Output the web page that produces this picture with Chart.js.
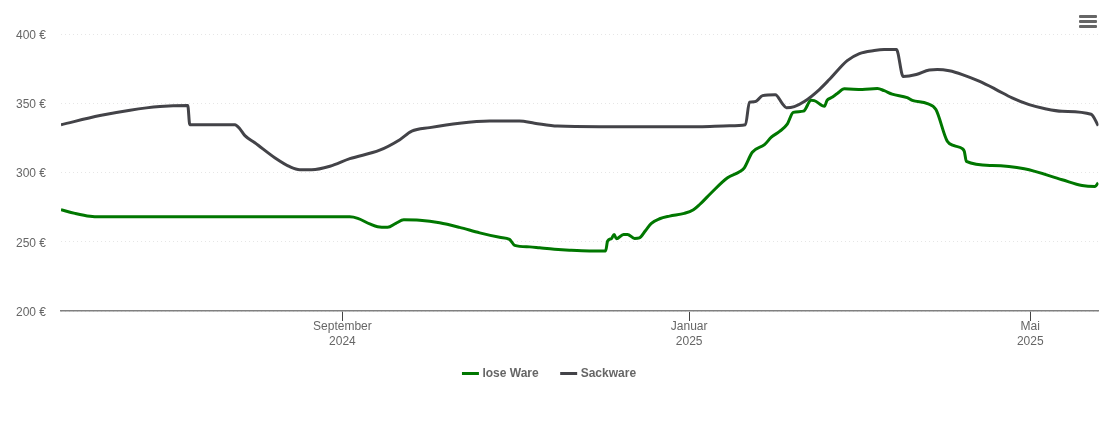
<!DOCTYPE html>
<html lang="de">
<head>
<meta charset="utf-8">
<title>Preisentwicklung</title>
<style>
  html, body { margin: 0; padding: 0; background: #fff; }
  #wrap { position: relative; width: 1110px; height: 422px; overflow: hidden; }
  #menu { position: absolute; left: 1079px; top: 15px; width: 18px; height: 14px; }
  #menu span { display: block; height: 3.4px; margin-bottom: 1.6px; background: #666; border-radius: 1px; }
</style>
</head>
<body>
<div id="wrap">
  <canvas id="priceChart" width="1110" height="422"></canvas>
  <div id="menu"><span></span><span></span><span></span></div>
</div>
<script src="https://cdn.jsdelivr.net/npm/chart.js@4/dist/chart.umd.min.js"></script>
<script>
"use strict";

// x values are days since 25 May 2024
const LOOSE_DAYS = [0, 4.9, 10.2, 13.7, 48.9, 101.6, 104.4, 108.6, 111.4, 114.9, 117.8, 120.6, 126.2, 133.2,
  140.2, 147.3, 154.3, 157.8, 159.6, 164.9, 168.4, 173.6, 178.9, 185.9, 191.6, 192.3, 193.7, 194.6, 195.4, 197.9, 199.3,
  201.8, 203.5, 205.6, 207.7, 210.6, 214.1, 219.3, 222.5, 224.6, 228.8, 234.5, 238.7, 240.4, 243.2, 247.5,
  249.9, 252.7, 255.5, 257.6, 261.2, 263.9, 265, 268.6, 269.5, 270.9, 273.1, 275.6, 281.9, 287.2, 289.6,
  292.4, 297.7, 299.5, 304.8, 307.8, 311.8, 314.2, 317.1, 317.8, 318.5, 327.6, 338.9, 352.2, 359.2, 363.8, 364.9];
const LOOSE_PRICES = [273.1, 270.5, 268.4, 268, 268, 268, 266.9, 262.9, 260.8, 260.4, 263.3, 265.8, 265.5, 263.7,
  260.4, 256.4, 253.2, 251.7, 247.4, 246.3, 245.6, 244.6, 243.9, 243.4, 243.4, 250.6, 252.4, 255.3, 252.1, 255.3, 255.3,
  252.4, 252.8, 257.9, 263.3, 266.6, 268.5, 270.5, 273.1, 276.7, 285.4, 296.2, 300.5, 303.4, 314.6, 320.1,
  325.5, 329.5, 334.9, 343.4, 344.3, 352.1, 351.9, 347.8, 352.1, 353.9, 357, 360.4, 359.9, 360.6, 359.1,
  356.6, 354.1, 352.1, 349.7, 345.4, 322.5, 319.4, 317.2, 315.2, 308.1, 305.1, 302.7, 294.8, 290.6, 289.9, 292.6];

const SACK_DAYS = [0, 13.7, 24.3, 34.8, 44.6, 45.3, 61.2, 62.9, 64.7, 68.2, 75.2, 80.5, 84, 88.2, 94.6, 101.6,
  112.1, 119.2, 123.4, 129.7, 140.2, 150.8, 161.3, 166.6, 174.7, 189.5, 224.6, 235.2, 240.8, 242.2, 244.3,
  246.8, 251.3, 253.8, 255.2, 258, 261.5, 266.8, 270.3, 276.6, 280.9, 286.1, 289.6, 293.9, 296.3, 300.9,
  305.5, 308.3, 312.5, 317.1, 323, 329, 334.6, 340.6, 346.6, 352.2, 362.4, 364.9];
const SACK_PRICES = [334.5, 341.1, 345, 347.6, 348.3, 334.5, 334.5, 331.6, 326.6, 321.5, 310.7, 304.2, 302, 302, 304.5, 310,
  316.1, 323.7, 329.8, 332.4, 335.6, 337.1, 337.1, 335.6, 333.5, 333.1, 333.1, 333.8, 334.5, 350.8, 351.2,
  355.5, 356.2, 349.7, 346.8, 347.6, 351.2, 359.9, 367.1, 380.8, 385.9, 388.1, 388.8, 388.8, 369.3, 370.7,
  374, 374.3, 373.4, 370.7, 365.9, 359.9, 353.9, 349, 345.9, 344.2, 342.1, 333.8];

const X_TICK_DAYS = [99, 221, 341];
const X_TICK_LABELS = [["September", "2024"], ["Januar", "2025"], ["Mai", "2025"]];

const FONT = "'Liberation Sans', Arial, sans-serif";

function toPoints(days, prices) {
  return days.map((d, i) => ({ x: d, y: prices[i] }));
}

function lineSeries(label, days, prices, color) {
  return {
    label,
    data: toPoints(days, prices),
    borderColor: color,
    backgroundColor: color,
    borderWidth: 3,
    pointRadius: 0,
    cubicInterpolationMode: "monotone"
  };
}

// the wide item gap also pushes the legend down, so nudge it back after layout
const legendNudge = {
  id: "legendNudge",
  afterLayout(chart) {
    chart.legend.top -= 7.5;
    chart.legend.left += 1;
    chart.legend.right += 1;
  }
};

new Chart(document.getElementById("priceChart").getContext("2d"), {
  type: "line",
  plugins: [legendNudge],
  data: {
    datasets: [
      lineSeries("lose Ware", LOOSE_DAYS, LOOSE_PRICES, "#007700"),
      lineSeries("Sackware", SACK_DAYS, SACK_PRICES, "#434348")
    ]
  },
  options: {
    responsive: false,
    animation: false,
    layout: { padding: { top: 34, right: 11.5, bottom: 25, left: 0 } },
    plugins: {
      tooltip: { enabled: false },
      legend: {
        position: "bottom",
        labels: {
          usePointStyle: true,
          pointStyle: "line",
          boxWidth: 16,
          padding: 24,
          color: "#666",
          font: { family: FONT, size: 12, weight: "bold" }
        }
      }
    },
    scales: {
      x: {
        type: "linear",
        min: 0,
        max: 365,
        afterBuildTicks: scale => { scale.ticks = X_TICK_DAYS.map(value => ({ value })); },
        afterFit: scale => { scale.height = 40; },
        border: { color: "#808080", width: 1.6 },
        grid: { drawOnChartArea: false, tickColor: "#444", tickLength: 10 },
        ticks: {
          maxRotation: 0,
          autoSkip: false,
          padding: -1.5,
          color: "#666",
          font: { family: FONT, size: 12, lineHeight: 1.25 },
          callback: value => X_TICK_LABELS[X_TICK_DAYS.indexOf(value)]
        }
      },
      y: {
        min: 200,
        max: 400,
        afterFit: scale => { scale.width = 61; },
        border: { display: false, dash: [1, 3] },
        grid: { color: "#e6e6e6", drawTicks: false, tickLength: 0, lineWidth: 1 },
        ticks: {
          stepSize: 50,
          padding: 15,
          labelOffset: 1.5,
          color: "#666",
          font: { family: FONT, size: 12 },
          callback: value => value + " €"
        }
      }
    }
  }
});
</script>
</body>
</html>
